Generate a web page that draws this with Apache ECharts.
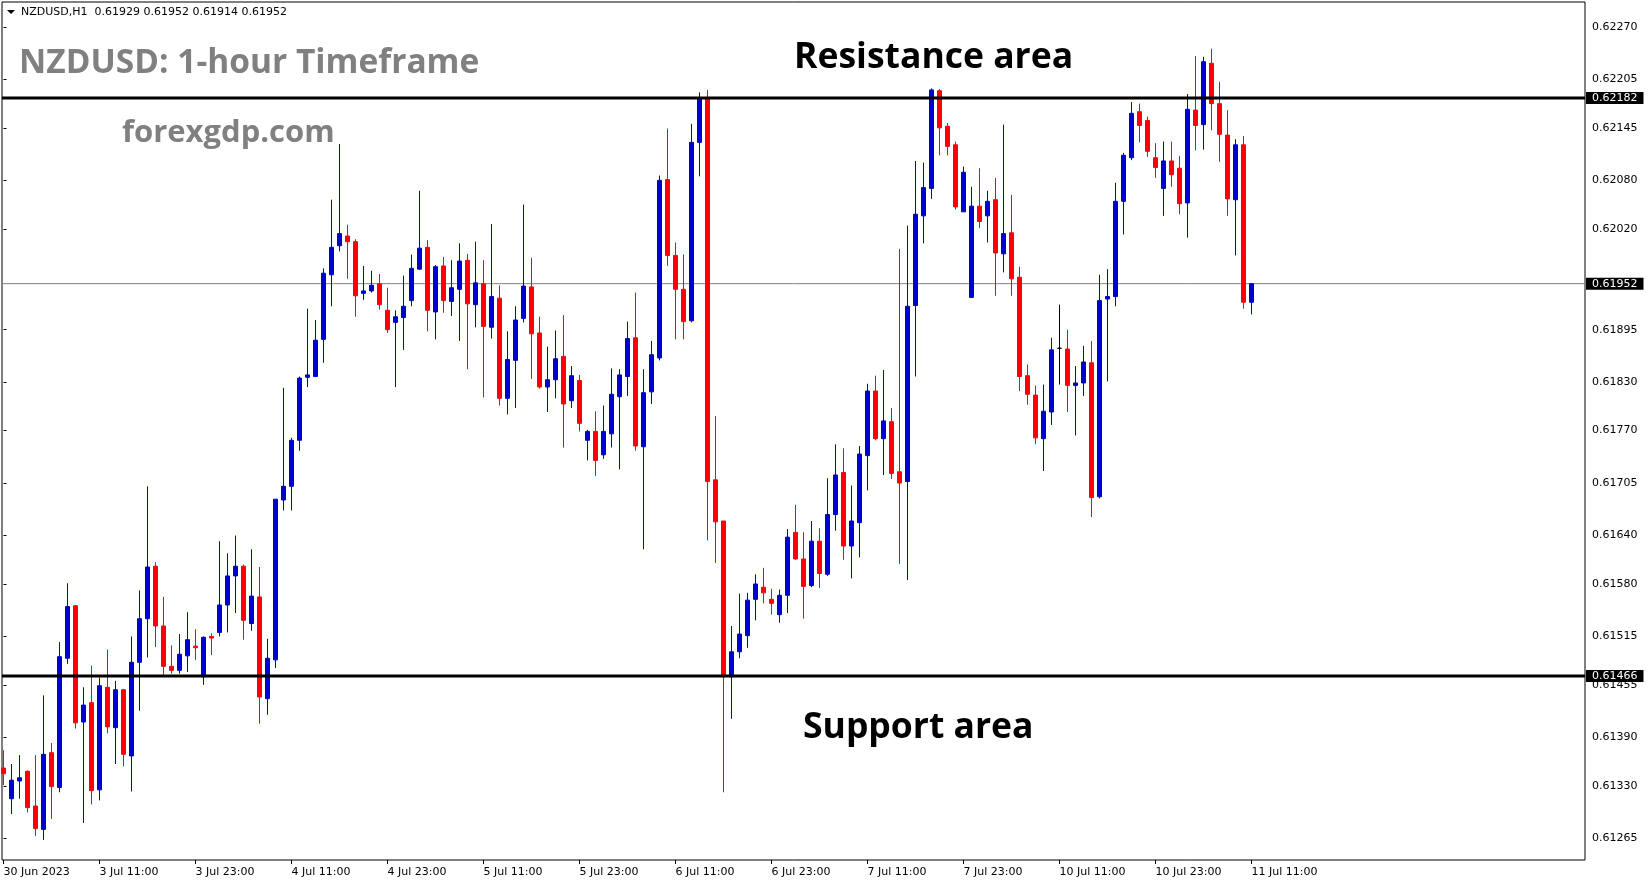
<!DOCTYPE html>
<html>
<head>
<meta charset="utf-8">
<script src="https://cdn.jsdelivr.net/npm/echarts@6/dist/echarts.min.js"></script>
<style>
html,body{margin:0;padding:0;background:#fff;}
#chart{width:1649px;height:884px;}
</style>
</head>
<body>
<div id="chart"></div>
<script>
// ---- data (NZDUSD H1) ----
const opens = [0.61352,0.61314,0.61336,0.61348,0.61305,0.61276,0.61371,0.61328,0.61488,0.61553,
0.61409,0.61433,0.61325,0.61452,0.61402,0.61449,0.61367,0.61483,0.61537,0.61602,
0.61528,0.61478,0.61473,0.61491,0.61503,0.61465,0.61515,0.61520,0.61554,0.61590,
0.61602,0.61531,0.61564,0.61438,0.61486,0.61684,0.61701,0.61758,0.61836,0.61837,
0.61883,0.61963,0.61999,0.62011,0.62004,0.61940,0.61943,0.61952,0.61919,0.61904,
0.61910,0.61931,0.61970,0.61997,0.61917,0.61974,0.61930,0.61945,0.61981,0.61926,
0.61952,0.61898,0.61934,0.61810,0.61857,0.61909,0.61948,0.61891,0.61824,0.61833,
0.61862,0.61807,0.61832,0.61758,0.61769,0.61740,0.61766,0.61812,0.61837,0.61885,
0.61750,0.61818,0.61860,0.62081,0.61987,0.61945,0.61906,0.62127,0.62181,0.61709,
0.61658,0.61465,0.61496,0.61516,0.61561,0.61576,0.61561,0.61542,0.61566,0.61644,
0.61611,0.61578,0.61633,0.61592,0.61666,0.61718,0.61627,0.61656,0.61739,0.61819,
0.61760,0.61781,0.61719,0.61707,0.61925,0.62036,0.62070,0.62191,0.62147,0.62124,
0.62041,0.61935,0.62048,0.62036,0.62056,0.61989,0.62015,0.61960,0.61838,0.61814,
0.61760,0.61793,0.61872,0.61871,0.61826,0.61829,0.61854,0.61688,0.61933,0.61936,
0.62054,0.62108,0.62165,0.62154,0.62108,0.62070,0.62104,0.62095,0.62052,0.62167,
0.62149,0.62225,0.62175,0.62136,0.62056,0.62124,0.61929];

const highs = [0.61374,0.61357,0.61368,0.61349,0.61368,0.61442,0.61383,0.61508,0.61581,0.61554,
0.61452,0.61479,0.61464,0.61499,0.61460,0.61450,0.61515,0.61572,0.61701,0.61607,
0.61564,0.61504,0.61518,0.61545,0.61524,0.61515,0.61519,0.61633,0.61618,0.61640,
0.61604,0.61623,0.61601,0.61512,0.61685,0.61823,0.61761,0.61837,0.61921,0.61907,
0.61971,0.62056,0.62125,0.62025,0.62007,0.61974,0.61968,0.61964,0.61947,0.61919,
0.61962,0.61988,0.62067,0.62006,0.61975,0.61985,0.61981,0.62002,0.61989,0.62004,
0.61981,0.62026,0.61950,0.61893,0.61924,0.62050,0.61984,0.61911,0.61874,0.61894,
0.61913,0.61850,0.61839,0.61771,0.61794,0.61801,0.61847,0.61846,0.61905,0.61941,
0.61846,0.61881,0.62086,0.62144,0.62003,0.61988,0.62150,0.62189,0.62192,0.61788,
0.61658,0.61528,0.61568,0.61569,0.61592,0.61600,0.61574,0.61573,0.61648,0.61678,
0.61644,0.61658,0.61649,0.61711,0.61753,0.61748,0.61702,0.61751,0.61828,0.61838,
0.61845,0.61798,0.61995,0.62024,0.62104,0.62102,0.62194,0.62193,0.62151,0.62128,
0.62097,0.62072,0.62095,0.62067,0.62083,0.62149,0.62062,0.61973,0.61852,0.61826,
0.61827,0.61885,0.61926,0.61895,0.61850,0.61875,0.61881,0.61963,0.61970,0.62077,
0.62114,0.62177,0.62175,0.62159,0.62126,0.62128,0.62128,0.62110,0.62187,0.62234,
0.62233,0.62243,0.62202,0.62167,0.62131,0.62135,0.61952];

const lows = [0.61331,0.61295,0.61314,0.61297,0.61268,0.61263,0.61289,0.61322,0.61481,0.61401,
0.61284,0.61307,0.61312,0.61395,0.61357,0.61354,0.61323,0.61423,0.61489,0.61502,
0.61465,0.61469,0.61469,0.61471,0.61486,0.61455,0.61492,0.61515,0.61520,0.61544,
0.61511,0.61522,0.61407,0.61418,0.61476,0.61671,0.61671,0.61745,0.61824,0.61837,
0.61854,0.61924,0.61992,0.61958,0.61911,0.61932,0.61941,0.61920,0.61891,0.61824,
0.61870,0.61924,0.61969,0.61893,0.61883,0.61916,0.61912,0.61881,0.61846,0.61898,
0.61811,0.61884,0.61801,0.61790,0.61798,0.61904,0.61834,0.61822,0.61793,0.61810,
0.61749,0.61798,0.61769,0.61733,0.61714,0.61735,0.61749,0.61722,0.61813,0.61745,
0.61623,0.61803,0.61857,0.61974,0.61883,0.61883,0.61904,0.62085,0.61634,0.61606,
0.61322,0.61413,0.61488,0.61501,0.61535,0.61556,0.61542,0.61532,0.61544,0.61610,
0.61537,0.61576,0.61575,0.61590,0.61646,0.61610,0.61587,0.61613,0.61696,0.61758,
0.61715,0.61710,0.61605,0.61585,0.61837,0.62002,0.62057,0.62111,0.62111,0.62044,
0.62041,0.61935,0.62021,0.62003,0.61937,0.61966,0.61937,0.61819,0.61802,0.61753,
0.61720,0.61777,0.61827,0.61793,0.61764,0.61813,0.61663,0.61686,0.61831,0.61924,
0.62013,0.62105,0.62127,0.62109,0.62083,0.62036,0.62072,0.62038,0.62009,0.62117,
0.62118,0.62142,0.62103,0.62036,0.61987,0.61921,0.61914];

const closes = [0.61345,0.61337,0.61340,0.61303,0.61277,0.61369,0.61329,0.61490,0.61552,0.61408,
0.61430,0.61324,0.61454,0.61403,0.61449,0.61369,0.61483,0.61537,0.61601,0.61528,
0.61478,0.61473,0.61493,0.61511,0.61501,0.61514,0.61513,0.61554,0.61590,0.61602,
0.61535,0.61565,0.61440,0.61488,0.61685,0.61701,0.61758,0.61835,0.61839,0.61882,
0.61965,0.61997,0.62014,0.62004,0.61937,0.61943,0.61950,0.61926,0.61895,0.61911,
0.61924,0.61971,0.61996,0.61919,0.61973,0.61931,0.61947,0.61980,0.61927,0.61953,
0.61899,0.61936,0.61810,0.61858,0.61907,0.61949,0.61890,0.61824,0.61833,0.61859,
0.61803,0.61838,0.61779,0.61769,0.61733,0.61769,0.61815,0.61839,0.61884,0.61751,
0.61817,0.61864,0.62080,0.61987,0.61945,0.61905,0.62127,0.62181,0.61707,0.61657,
0.61465,0.61496,0.61518,0.61560,0.61580,0.61569,0.61556,0.61566,0.61638,0.61611,
0.61577,0.61633,0.61593,0.61666,0.61715,0.61627,0.61658,0.61741,0.61819,0.61760,
0.61782,0.61717,0.61705,0.61924,0.62038,0.62071,0.62192,0.62145,0.62122,0.62047,
0.62090,0.62048,0.62029,0.62054,0.61990,0.62014,0.61958,0.61837,0.61815,0.61761,
0.61794,0.61870,0.61872,0.61826,0.61829,0.61855,0.61687,0.61931,0.61936,0.62054,
0.62111,0.62163,0.62148,0.62116,0.62096,0.62104,0.62087,0.62051,0.62168,0.62148,
0.62227,0.62175,0.62137,0.62057,0.62124,0.61929,0.61952];

// time-axis tick labels (every 12th hourly bar)
const xTickIdx = [0,12,24,36,48,60,72,84,96,108,120,132,144,156];
const xTickLabels = ['30 Jun 2023','3 Jul 11:00','3 Jul 23:00','4 Jul 11:00','4 Jul 23:00',
  '5 Jul 11:00','5 Jul 23:00','6 Jul 11:00','6 Jul 23:00','7 Jul 11:00','7 Jul 23:00',
  '10 Jul 11:00','10 Jul 23:00','11 Jul 11:00'];
// price-axis tick labels
const yTicks = [0.61265,0.61330,0.61390,0.61455,0.61515,0.61580,0.61640,0.61705,
  0.61770,0.61830,0.61895,0.62020,0.62080,0.62145,0.62205,0.62270];
// horizontal levels
const resistanceLevel = 0.62182;
const supportLevel = 0.61466;
const bidLevel = 0.61952;

// ---- build ----
const X_MIN = -0.1875, X_MAX = 197.6875;
const candles = opens.map((o, i) => [i, o, closes[i], lows[i], highs[i]]);
const last = opens.length - 1;
const headerText = 'NZDUSD,H1  ' + [opens[last], highs[last], lows[last], closes[last]]
  .map(v => v.toFixed(5)).join(' ');

const FONT = '"DejaVu Sans", sans-serif';
const BLUE = '#0000CD', RED = '#FF0000';

function levelSeries(v, color, width, z) {
  return {
    type: 'line',
    data: [[X_MIN, v], [X_MAX, v]],
    symbol: 'none',
    silent: true,
    z: z,
    lineStyle: { color: color, width: width },
    endLabel: {
      show: true, distance: 1,
      formatter: () => v.toFixed(5),
      color: '#fff', backgroundColor: '#000',
      fontFamily: FONT, fontSize: 11, lineHeight: 12,
      padding: [0, 6, 0, 6]
    }
  };
}

const chart = echarts.init(document.getElementById('chart'), null, { renderer: 'canvas' });
chart.setOption({
  animation: false,
  backgroundColor: '#fff',
  grid: { left: 2, top: 2, right: 64, bottom: 24, show: true, borderColor: '#000', borderWidth: 1, backgroundColor: 'transparent' },
  xAxis: {
    type: 'value', min: X_MIN, max: X_MAX,
    axisLine: { show: false },
    splitLine: { show: false },
    axisTick: { show: true, customValues: xTickIdx, length: 4, lineStyle: { color: '#000' } },
    axisLabel: {
      customValues: xTickIdx,
      formatter: v => xTickLabels[xTickIdx.indexOf(Math.round(v))] || '',
      align: 'left', margin: 7,
      color: '#000', fontFamily: FONT, fontSize: 11
    }
  },
  yAxis: {
    type: 'value', position: 'right', scale: true,
    min: 0.612381, max: 0.623009,
    axisLine: { show: false },
    splitLine: { show: false },
    axisTick: { show: true, customValues: yTicks, length: 3, lineStyle: { color: '#000' } },
    axisLabel: {
      customValues: yTicks,
      formatter: v => v.toFixed(5),
      margin: 7, color: '#000', fontFamily: FONT, fontSize: 11
    }
  },
  series: [
    levelSeries(bidLevel, '#808080', 1, 1),
    {
      type: 'candlestick',
      data: candles,
      encode: { x: 0, y: [1, 2, 3, 4] },
      barWidth: 4,
      z: 2,
      itemStyle: {
        color: BLUE, color0: RED,
        borderColor: BLUE, borderColor0: RED,
        borderColorDoji: '#000',
        borderWidth: 1
      }
    },
    levelSeries(resistanceLevel, '#000', 3, 3),
    levelSeries(supportLevel, '#000', 3, 3)
  ],
  graphic: [
    { type: 'polygon', shape: { points: [[7, 10], [15, 10], [11, 14]] }, style: { fill: '#000' } },
    { type: 'text', x: 21, y: 12, style: { text: headerText, font: '11px ' + FONT, fill: '#000', verticalAlign: 'middle' } },
    { type: 'text', x: 19, y: 63, style: { text: 'NZDUSD: 1-hour Timeframe', font: 'bold 33.5px "Open Sans"', fill: '#808080', verticalAlign: 'middle' } },
    { type: 'text', x: 122, y: 133, style: { text: 'forexgdp.com', font: 'bold 31px "Open Sans"', fill: '#808080', verticalAlign: 'middle' } },
    { type: 'text', x: 794, y: 58, style: { text: 'Resistance area', font: 'bold 35.5px "Open Sans"', fill: '#000', verticalAlign: 'middle' } },
    { type: 'text', x: 803, y: 728, style: { text: 'Support area', font: 'bold 35.5px "Open Sans"', fill: '#000', verticalAlign: 'middle' } }
  ]
});
</script>
</body>
</html>
